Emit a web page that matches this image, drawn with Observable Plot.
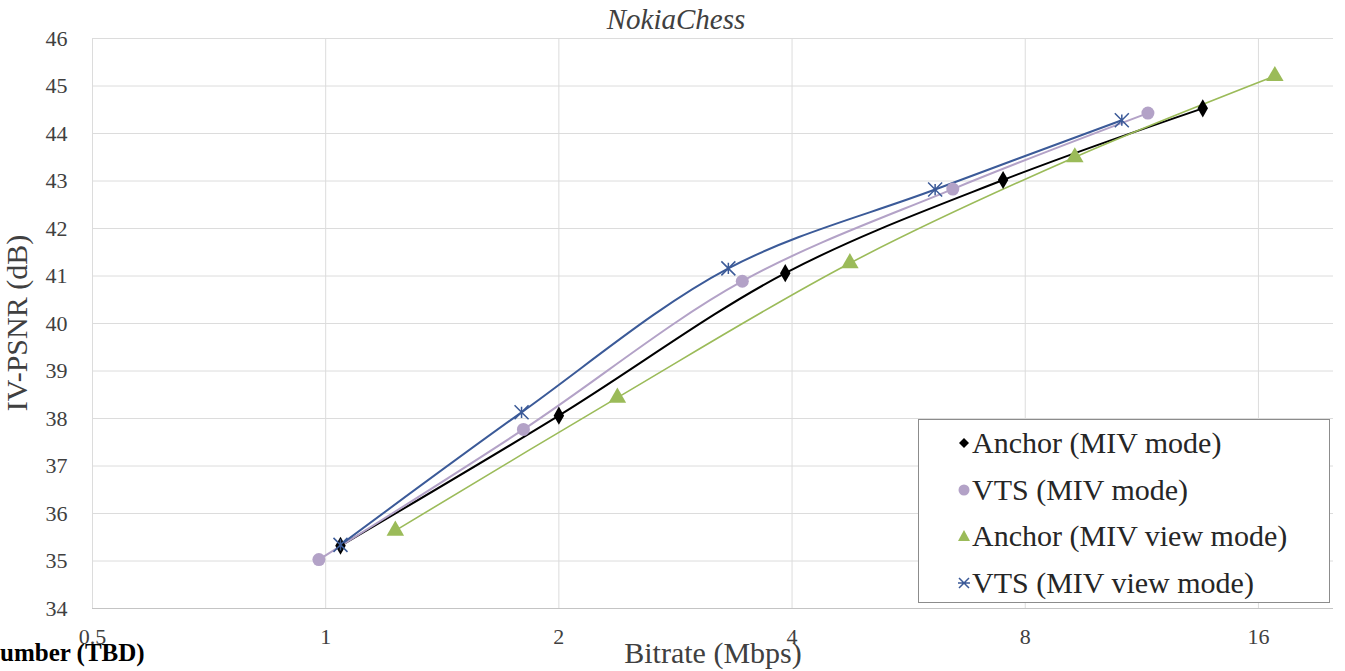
<!DOCTYPE html>
<html>
<head>
<meta charset="utf-8">
<script src="https://cdn.jsdelivr.net/npm/d3@7"></script>
<script src="https://cdn.jsdelivr.net/npm/@observablehq/plot@0.6"></script>
<style>
  html, body { margin: 0; padding: 0; background: #fff; overflow: hidden; }
  #wrap { position: relative; width: 1345px; height: 671px; font-family: "Liberation Serif", "Times New Roman", serif; color: #404040; }
  #wrap svg.chart { position: absolute; left: 0; top: 0; }
  .abs { position: absolute; white-space: nowrap; line-height: 1; }
  #title { left: 0; width: 1352px; text-align: center; top: 5px; font-size: 29px; font-style: italic; }
  #xlabel { left: 0; width: 1426px; text-align: center; top: 638px; font-size: 30px; }
  #ylabel { left: 17px; top: 323px; font-size: 30px; transform: translate(-50%, -50%) rotate(-90deg); }
  #note { left: 0; top: 640px; font-size: 25px; font-weight: bold; color: #000; }
  #legend { left: 918px; top: 419px; width: 412px; height: 184px; border: 1px solid #8c8c8c; background: #fff; box-sizing: border-box; }
  .item { position: absolute; left: 38px; font-size: 30px; color: #262626; display: flex; align-items: center; }
  .item svg { margin-right: 1px; }
</style>
</head>
<body>
<div id="wrap">
  <div class="abs" id="title">NokiaChess</div>
  <div class="abs" id="ylabel">IV-PSNR (dB)</div>
  <div class="abs" id="xlabel">Bitrate (Mbps)</div>
  <div class="abs" id="note">umber (TBD)</div>
</div>
<script>
// ---- data ----
const seriesNames = ["Anchor (MIV mode)", "VTS (MIV mode)", "Anchor (MIV view mode)", "VTS (MIV view mode)"];
const bitrateAnchorMIV = [1.045, 2.0, 3.92, 7.49, 13.56];
const psnrAnchorMIV    = [35.32, 38.06, 41.06, 43.02, 44.53];
const bitrateVtsMIV    = [0.98, 1.80, 3.45, 6.45, 11.52];
const psnrVtsMIV       = [35.03, 37.77, 40.89, 42.83, 44.43];
const bitrateAnchorView = [1.23, 2.38, 4.75, 9.27, 16.8];
const psnrAnchorView    = [35.64, 38.44, 41.27, 43.50, 45.21];
const bitrateVtsView    = [1.045, 1.79, 3.31, 6.12, 10.66];
const psnrVtsView       = [35.34, 38.13, 41.16, 42.82, 44.28];
const xTicks = [0.5, 1, 2, 4, 8, 16];
const yTicks = [34, 35, 36, 37, 38, 39, 40, 41, 42, 43, 44, 45, 46];

// ---- styles ----
const colors = ["#000000", "#b3a2c7", "#9bbb59", "#3b5a98"];
const widths = [2, 2, 1.6, 2];

const starX = {
  draw(ctx, size) {
    const r = Math.sqrt(size / Math.PI);
    ctx.moveTo(-r, -r); ctx.lineTo(r, r);
    ctx.moveTo(-r, r); ctx.lineTo(r, -r);
    ctx.moveTo(0, -r * 0.8); ctx.lineTo(0, r * 0.8);
  }
};

const allX = [bitrateAnchorMIV, bitrateVtsMIV, bitrateAnchorView, bitrateVtsView];
const allY = [psnrAnchorMIV, psnrVtsMIV, psnrAnchorView, psnrVtsView];
const series = seriesNames.map((name, i) =>
  allX[i].map((b, j) => ({series: name, bitrate: b, psnr: allY[i][j]})));

const marks = [
  Plot.gridY(yTicks, {stroke: "#dcdcdc", strokeOpacity: 1}),
  Plot.gridX(xTicks, {stroke: "#dcdcdc", strokeOpacity: 1}),
  Plot.ruleY([34], {stroke: "#c4c4c4"}),
  Plot.axisY(yTicks, {tickSize: 0, tickPadding: 25, fontSize: 22, label: null, tickFormat: d => String(d)}),
  Plot.axisX(xTicks, {tickSize: 0, tickPadding: 20, fontSize: 22, label: null, tickFormat: d => String(d)})
];
series.forEach((data, i) => {
  marks.push(Plot.line(data, {x: "bitrate", y: "psnr", stroke: colors[i], strokeWidth: widths[i], curve: "catmull-rom"}));
});
series.forEach((data, i) => {
  if (i === 0) marks.push(Plot.dot(data, {x: "bitrate", y: "psnr", symbol: "diamond", r: 5.5, fill: colors[i], stroke: "none"}));
  if (i === 1) marks.push(Plot.dot(data, {x: "bitrate", y: "psnr", symbol: "circle", r: 6.5, fill: colors[i], stroke: "none"}));
  if (i === 2) marks.push(Plot.dot(data, {x: "bitrate", y: "psnr", symbol: "triangle", r: 6.5, fill: colors[i], stroke: "none"}));
  if (i === 3) marks.push(Plot.dot(data, {x: "bitrate", y: "psnr", symbol: starX, r: 7, fill: "none", stroke: colors[i], strokeWidth: 1.5}));
});

const chart = Plot.plot({
  width: 1345,
  height: 671,
  marginLeft: 92,
  marginRight: 12,
  marginTop: 38,
  marginBottom: 63,
  x: {type: "log", base: 2, domain: [0.5, 20], label: null},
  y: {domain: [34, 46], label: null},
  style: {fontFamily: "Liberation Serif", fontSize: "22px", color: "#404040", background: "transparent"},
  marks
});
chart.classList.add("chart");
const wrap = document.getElementById("wrap");
wrap.insertBefore(chart, wrap.firstChild);

// ---- legend ----
const legend = document.createElement("div");
legend.className = "abs";
legend.id = "legend";
const markerSvg = [
  `<svg width="14" height="14" viewBox="-7 -7 14 14"><path d="M0,-5L5,0L0,5L-5,0Z" fill="${colors[0]}"/></svg>`,
  `<svg width="14" height="14" viewBox="-7 -7 14 14"><circle r="5.5" fill="${colors[1]}"/></svg>`,
  `<svg width="14" height="14" viewBox="-7 -7 14 14"><path d="M0,-6L6,5L-6,5Z" fill="${colors[2]}"/></svg>`,
  `<svg width="14" height="14" viewBox="-7 -7 14 14"><path d="M-5,-5L5,5M-5,5L5,-5M-6,0L6,0" stroke="${colors[3]}" stroke-width="1.5" fill="none"/></svg>`
];
seriesNames.forEach((name, i) => {
  const it = document.createElement("div");
  it.className = "item";
  it.style.top = (8 + i * 46.5) + "px";
  it.innerHTML = markerSvg[i] + `<span>${name}</span>`;
  legend.appendChild(it);
});
wrap.appendChild(legend);
</script>
</body>
</html>
